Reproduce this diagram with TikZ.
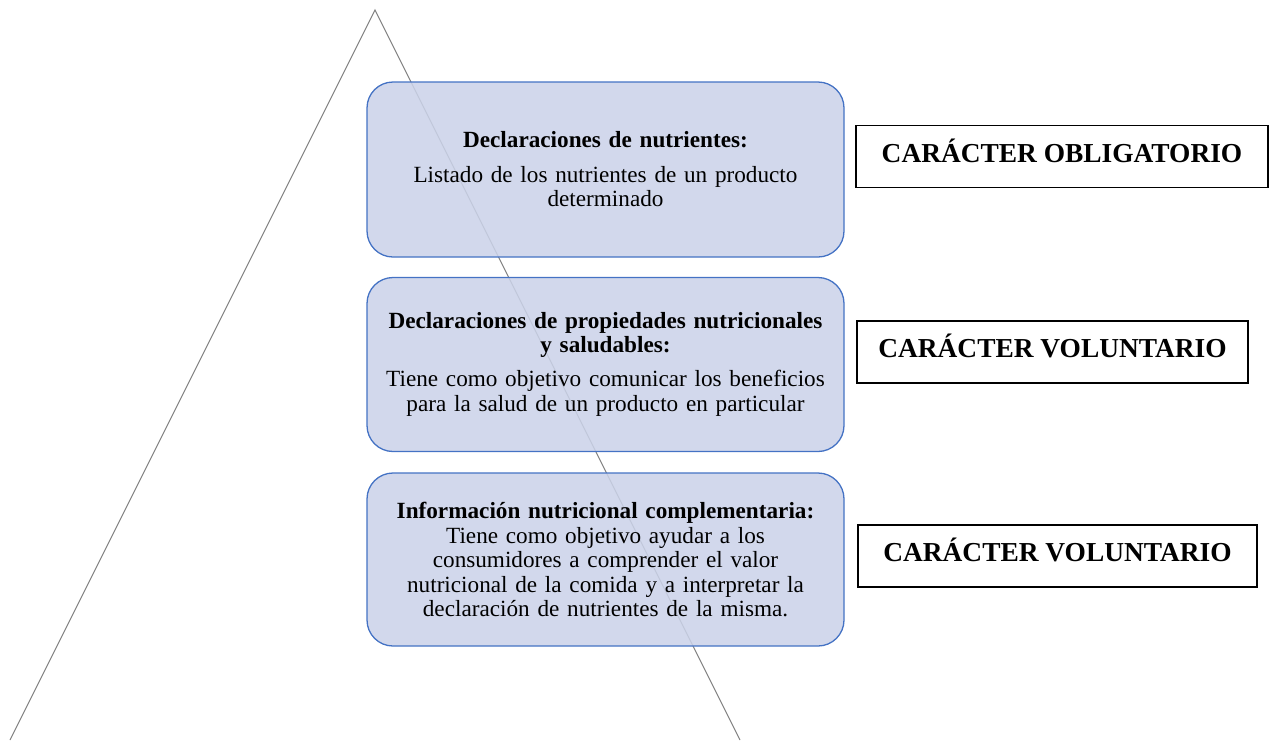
\documentclass[tikz,border=0pt]{standalone}
\usepackage{fontspec}
\setmainfont{Liberation Serif}
\lineskiplimit=-30pt
\definecolor{boxfill}{HTML}{CBD2E9}
\definecolor{boxline}{HTML}{4472C4}
\definecolor{triline}{HTML}{808080}
\begin{document}
\begin{tikzpicture}[x=1pt,y=-1pt,
  bluebox/.style={draw=boxline,line width=1.3pt,fill=boxfill,fill opacity=0.86,text opacity=1,
    rounded corners=26pt,minimum width=477pt,text width=465pt,align=center,
    font=\fontsize{23.2}{24.5}\selectfont,inner sep=0pt},
  tagbox/.style={draw=black,line width=1.2pt,fill=white,minimum height=62pt,inner sep=0pt,
    text height=18.3pt,text depth=7pt,
    font=\fontsize{27.4}{32}\selectfont\bfseries}]
\path[use as bounding box] (0,0) rectangle (1273,740);
% triangle
\coordinate (apex) at (375,10);
\coordinate (bl) at (10,740);
\coordinate (br) at (740,740);
\draw[triline,line width=1pt] (bl) -- (apex) -- (br);
% boxes
\node[bluebox,minimum height=175pt] (b1) at (605.5,169.5)
  {\textbf{Declaraciones de nutrientes:}\\[10pt]Listado de los nutrientes de un producto\\determinado};
\node[bluebox,minimum height=174pt] (b2) at (605.5,364.5)
  {\textbf{Declaraciones de propiedades nutricionales}\\[-1pt]\textbf{y saludables:}\\[10pt]Tiene como objetivo comunicar los beneficios\\para la salud de un producto en particular};
\node[bluebox,minimum height=173pt] (b3) at (605.5,559.5)
  {\textbf{Información nutricional complementaria:}\\Tiene como objetivo ayudar a los\\consumidores a comprender el valor\\nutricional de la comida y a interpretar la\\declaración de nutrientes de la misma.};
% tags
\node[tagbox,minimum width=412pt] (t1) at (1062,156.5) {CARÁCTER OBLIGATORIO};
\node[tagbox,minimum width=391pt] (t2) at (1052.5,352) {CARÁCTER VOLUNTARIO};
\node[tagbox,minimum width=399pt] (t3) at (1057.5,556) {CARÁCTER VOLUNTARIO};
\end{tikzpicture}
\end{document}
